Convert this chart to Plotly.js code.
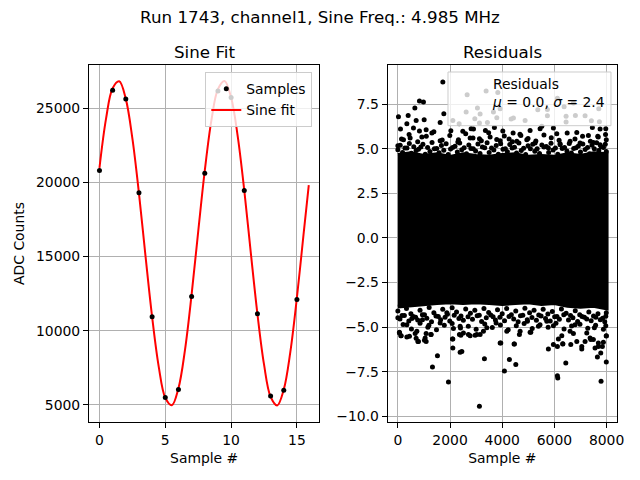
<!DOCTYPE html>
<html>
<head>
<meta charset="utf-8">
<script src="https://cdn.plot.ly/plotly-3.0.1.min.js"></script>
<style>html,body{margin:0;padding:0;background:#fff;}#chart{width:640px;height:480px;}</style>
</head>
<body>
<div id="chart"></div>
<script>
// ---- Left panel: samples and sine fit ----
const sampleIdx = [0,1,2,3,4,5,6,7,8,9,10,11,12,13,14,15];
const sampleVals = [20800,26200,25600,19300,10950,5500,6050,12300,20600,26150,25700,19450,11150,5600,6000,12100];
const fitX = [0,0.5,1,1.5,2,2.5,3,3.5,4,4.5,5,5.5,6,6.5,7,7.5,8,8.5,9,9.5,10,10.5,11,11.5,12,12.5,13,13.5,14,14.5,15,15.5,15.9];
const fitY = [20971,24289,26333,26800,25615,22953,19251,15006,10935,7587,5487,4980,6124,8733,12442,16679,20785,24151,26268,26816,25712,23114,19452,15215,11123,7729,5553,4970,6045,8580,12244,16470,19809];
const leftYTicks = [5000,10000,15000,20000,25000];
const leftYTickText = ["5000","10000","15000","20000","25000"];
const leftXTicks = [0,5,10,15];

// ---- Right panel: residuals ----
// dense core of the residual cloud (envelope)
const coreX = [0,500,1000,1500,2000,2500,3000,3500,4000,4500,5000,5500,6000,6500,7000,7500,8000];
const coreUpper = [4.65,4.75,4.6,4.7,4.55,4.7,4.6,4.55,4.65,4.7,4.55,4.6,4.55,4.7,4.6,4.75,4.7];
const coreLower = [-3.85,-3.8,-3.7,-3.65,-3.6,-3.65,-3.6,-3.65,-3.7,-3.65,-3.6,-3.7,-3.65,-3.8,-3.85,-3.8,-3.95];
// individually visible residual points (fringe of the cloud)
const residualX = [
 1724,828,981,651,23,2655,1762,395,701,1008,100,345,1621,2107,2349,2808,2950,3127,3433,3793,4341,4429,4877,
 3383,3831,2617,3050,3153,3663,3920,5364,5732,6115,6372,6729,6805,5732,7701,6448,
 6448,7176,7418,7725,7751,7969,7456,
 598,828,1084,1303,2031,2490,2898,3356,3701,4023,4418,4713,5069,5452,5517,5962,6092,6858,7303,7663,7990,
 0,215,471,920,1621,2322,2770,3127,3536,3920,4264,4559,4942,5261,5770,6218,6602,6985,7494,7751,
 0,180,350,520,700,880,1050,1230,1400,1580,1760,1930,2100,2280,2450,2630,2800,2980,3150,3330,3500,3680,3850,4030,4200,4380,4550,4730,4900,5080,5250,5430,5600,5780,5950,6130,6300,6480,6650,6830,7000,7180,7350,7530,7700,7880,7990,
 90,270,440,610,790,960,1140,1310,1490,1670,1850,2020,2190,2370,2540,2720,2890,3070,3240,3420,3590,3770,3940,4120,4290,4470,4640,4820,4990,5170,5340,5520,5690,5870,6040,6220,6390,6570,6740,6920,7090,7270,7440,7620,7790,7950,
 140,430,760,1090,1380,1700,1990,2300,2600,2880,3200,3480,3790,4080,4390,4680,4990,5290,5600,5880,6180,6490,6790,7080,7380,7680,7960,
 0,61,126,345,444,701,789,728,536,943,1046,1084,1264,1188,1621,1877,2130,2107,2360,2387,2513,2705,2962,3153,3410,3766,3946,4176,4456,4686,4966,5096,5387,5709,5962,6115,6322,6602,6793,7050,7241,7395,7533,7686,7839,7969,7990,7969,
 61,115,345,663,766,1019,1084,1276,1326,1517,1939,2092,2107,2387,2452,2414,2770,3027,3126,3318,3280,3920,4084,4276,4467,4521,4659,5069,5770,5962,6115,6130,6153,6284,6322,6437,6628,6729,6858,7050,7176,7368,7494,7559,7648,7777,7789,7877,7990,7990,7686,
 0,160,330,500,680,850,1020,1200,1380,1550,1720,1900,2080,2250,2420,2600,2780,2950,3120,3300,3480,3650,3820,4000,4170,4350,4520,4700,4870,5050,5220,5400,5570,5750,5920,6100,6270,6450,6620,6800,6970,7150,7320,7500,7670,7850,7990,
 80,250,420,590,760,940,1110,1290,1460,1640,1810,1990,2160,2340,2510,2690,2860,3040,3210,3390,3560,3740,3910,4090,4260,4440,4610,4790,4960,5140,5310,5490,5660,5840,6010,6190,6360,6540,6710,6890,7060,7240,7410,7590,7760,7930,
 200,520,850,1150,1480,1780,2080,2400,2700,3000,3330,3620,3930,4230,4540,4840,5150,5450,5760,6060,6370,6660,6980,7280,7580,7880
];
const residualY = [
 8.74,7.68,7.62,7.29,6.80,8.03,6.97,6.87,6.59,6.63,6.11,6.41,6.48,6.59,6.41,6.13,6.69,6.45,6.48,6.74,6.67,6.73,6.59,
 8.24,8.16,7.06,7.29,6.95,7.06,7.25,7.19,7.21,7.83,7.36,7.57,6.87,6.86,7.25,6.82,
 6.50,6.86,6.57,6.52,6.11,6.13,6.20,
 6.17,6.00,6.07,5.89,6.01,5.98,6.11,6.03,6.20,6.00,5.89,5.75,6.03,6.13,6.26,6.17,5.85,5.92,5.75,5.70,5.51,
 5.17,5.51,5.61,5.66,5.45,5.51,5.61,5.57,5.66,5.45,5.55,5.42,5.51,5.32,5.04,5.29,5.42,5.32,5.36,5.23,
 4.95,4.80,5.05,4.75,4.90,5.10,4.70,4.85,5.00,4.78,4.92,4.68,5.08,4.82,4.95,4.72,5.02,4.88,4.74,5.06,4.80,4.93,4.70,4.98,4.84,5.04,4.76,4.90,4.68,5.00,4.86,4.74,5.10,4.80,4.94,4.70,5.02,4.88,4.76,5.06,4.82,4.96,4.72,5.00,4.90,5.08,4.85,
 5.20,5.05,5.30,5.12,4.98,5.25,5.08,5.35,5.02,5.18,5.28,4.99,5.15,5.32,5.06,5.22,5.00,5.27,5.10,5.34,5.04,5.19,5.29,5.01,5.24,5.09,5.33,5.03,5.17,5.26,5.00,5.21,5.13,5.31,5.05,5.23,5.08,5.30,5.02,5.16,5.27,5.07,5.20,5.34,5.11,5.25,
 5.55,5.80,5.40,5.70,5.95,5.50,5.75,5.38,5.85,5.60,5.45,5.90,5.52,5.72,5.40,5.82,5.58,5.44,5.78,5.62,5.48,5.88,5.55,5.70,5.42,5.66,5.80,
 -4.48,-5.29,-5.48,-4.86,-5.51,-5.63,-5.80,-5.23,-4.52,-4.58,-5.61,-5.80,-5.42,-4.90,-4.77,-4.20,-5.08,-5.66,-5.42,-4.95,-5.33,-5.42,-5.46,-5.42,-5.04,-4.77,-5.89,-5.23,-5.94,-5.23,-4.67,-5.29,-4.95,-4.67,-4.92,-6.08,-5.93,-5.23,-4.86,-6.08,-5.33,-5.70,-5.04,-5.89,-6.08,-4.92,-5.48,-4.39,
 -5.33,-5.48,-5.55,-5.36,-5.80,-5.74,-5.36,-5.42,-7.23,-6.60,-8.07,-5.66,-6.17,-6.41,-6.36,-5.46,-5.48,-5.42,-9.44,-6.78,-5.23,-5.89,-7.46,-6.82,-5.94,-7.10,-5.42,-5.29,-6.22,-5.98,-7.72,-7.85,-5.66,-5.48,-5.94,-7.01,-5.98,-5.36,-5.80,-6.22,-5.80,-5.61,-5.70,-6.17,-6.67,-6.45,-8.04,-5.85,-6.95,-5.50,-6.08,
 -4.10,-4.35,-3.95,-4.25,-4.45,-4.05,-4.30,-3.90,-4.20,-4.40,-4.00,-4.28,-3.92,-4.15,-4.38,-3.98,-4.22,-4.05,-4.33,-3.95,-4.18,-4.42,-4.02,-4.25,-3.96,-4.30,-4.10,-4.36,-3.94,-4.20,-4.05,-4.32,-4.00,-4.26,-4.12,-4.40,-3.98,-4.22,-4.35,-4.08,-4.30,-4.45,-4.15,-4.38,-4.25,-4.50,-4.20,
 -4.55,-4.35,-4.65,-4.40,-4.60,-4.30,-4.50,-4.70,-4.38,-4.58,-4.45,-4.66,-4.33,-4.52,-4.62,-4.42,-4.56,-4.36,-4.68,-4.48,-4.32,-4.60,-4.44,-4.64,-4.40,-4.54,-4.70,-4.34,-4.58,-4.46,-4.62,-4.38,-4.52,-4.66,-4.42,-4.56,-4.30,-4.60,-4.48,-4.68,-4.40,-4.55,-4.64,-4.45,-4.58,-4.70,
 -4.85,-5.10,-4.78,-5.00,-5.15,-4.90,-4.80,-5.05,-4.95,-5.12,-4.82,-5.02,-4.88,-5.15,-4.92,-4.80,-5.08,-4.86,-5.00,-4.78,-5.10,-4.94,-4.84,-5.06,-4.90,-5.12
];
const rightXTicks = [0,2000,4000,6000,8000];
const rightYTicks = [-10,-7.5,-5,-2.5,0,2.5,5,7.5];

// ---- build ----
const polyX = coreX.concat(coreX.slice().reverse());
const polyY = coreUpper.concat(coreLower.slice().reverse());

const FONT = 'DejaVu Sans, Liberation Sans, sans-serif';
const traces = [
  {x: fitX, y: fitY, type: 'scatter', mode: 'lines', name: 'Sine fit',
   line: {color: '#ff0000', width: 2, shape: 'spline', smoothing: 1}, xaxis: 'x', yaxis: 'y'},
  {x: sampleIdx, y: sampleVals, type: 'scatter', mode: 'markers', name: 'Samples',
   marker: {color: '#000', size: 5}, xaxis: 'x', yaxis: 'y'},
  {x: polyX, y: polyY, type: 'scatter', mode: 'lines', fill: 'toself', fillcolor: '#000',
   line: {color: '#000', width: 4}, showlegend: false, hoverinfo: 'skip', xaxis: 'x2', yaxis: 'y2'},
  {x: residualX, y: residualY, type: 'scatter', mode: 'markers', showlegend: false,
   marker: {color: '#000', size: 5}, xaxis: 'x2', yaxis: 'y2'}
];

const axisCommon = {
  showline: true, mirror: true, linecolor: '#000', linewidth: 1,
  ticks: 'outside', ticklen: 5, tickwidth: 1, tickcolor: '#000',
  showgrid: true, gridcolor: '#b0b0b0', gridwidth: 1, zeroline: false,
  tickfont: {family: FONT, size: 13.9, color: '#000'}
};

const layout = {
  width: 640, height: 480,
  margin: {l: 89, r: 23, t: 65, b: 58},
  paper_bgcolor: '#fff', plot_bgcolor: '#fff',
  font: {family: FONT, color: '#000', size: 13.9},
  title: {text: 'Run 1743, channel1, Sine Freq.: 4.985 MHz', x: 0.5, xref: 'container', xanchor: 'center',
          y: 1 - 17/480, yref: 'container', yanchor: 'middle', font: {family: FONT, size: 16.7, color: '#000'}},
  xaxis: Object.assign({}, axisCommon, {domain: [0, 0.4362], range: [-0.795, 16.7],
          tickmode: 'array', tickvals: leftXTicks,
          title: {text: 'Sample #', standoff: 6, font: {family: FONT, size: 13.9, color: '#000'}}}),
  yaxis: Object.assign({}, axisCommon, {domain: [0, 1], range: [3854, 27897],
          tickmode: 'array', tickvals: leftYTicks, ticktext: leftYTickText,
          title: {text: 'ADC Counts', standoff: 8, font: {family: FONT, size: 13.9, color: '#000'}}}),
  xaxis2: Object.assign({}, axisCommon, {domain: [0.5657, 1], range: [-390, 8400], anchor: 'y2',
          tickmode: 'array', tickvals: rightXTicks, tickformat: 'd',
          title: {text: 'Sample #', standoff: 6, font: {family: FONT, size: 13.9, color: '#000'}}}),
  yaxis2: Object.assign({}, axisCommon, {domain: [0, 1], range: [-10.32, 9.70], anchor: 'x2',
          tickmode: 'array', tickvals: rightYTicks, tickformat: '.1f'}),
  showlegend: true,
  legend: {x: 0.4229, xanchor: 'right', y: 0.9796, yanchor: 'top', xref: 'paper', yref: 'paper',
           bgcolor: 'rgba(255,255,255,0.8)', bordercolor: '#cccccc', borderwidth: 1,
           font: {family: FONT, size: 13.9, color: '#000'}, traceorder: 'reversed'},
  shapes: [
    {type: 'rect', xref: 'paper', yref: 'paper', x0: 0.6799, x1: 0.9886, y0: 0.8300, y1: 0.9804,
     fillcolor: 'rgba(255,255,255,0.8)', line: {color: '#cccccc', width: 1}, layer: 'above'}
  ],
  annotations: [
    {text: 'Sine Fit', xref: 'paper', yref: 'paper', x: 0.2184, y: 1.0364, xanchor: 'center', yanchor: 'middle',
     showarrow: false, font: {family: FONT, size: 16.7, color: '#000'}},
    {text: 'Residuals', xref: 'paper', yref: 'paper', x: 0.7829, y: 1.0364, xanchor: 'center', yanchor: 'middle',
     showarrow: false, font: {family: FONT, size: 16.7, color: '#000'}},
    {text: 'Residuals<br><i>μ</i> = 0.0, <i>σ</i> = 2.4', xref: 'paper', yref: 'paper', x: 0.7590, y: 0.9216,
     xanchor: 'left', yanchor: 'middle', align: 'left', showarrow: false,
     font: {family: FONT, size: 13.9, color: '#000'}}
  ]
};

Plotly.newPlot('chart', traces, layout, {staticPlot: true, displayModeBar: false});
</script>
</body>
</html>
